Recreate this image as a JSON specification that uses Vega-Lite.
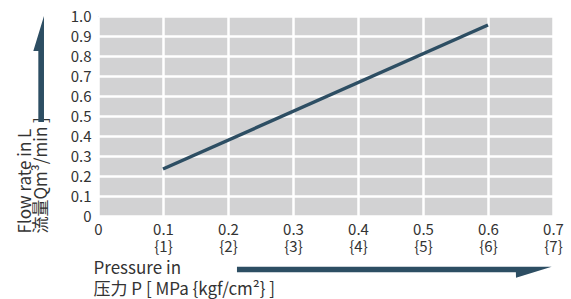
{
  "$schema": "https://vega.github.io/schema/vega-lite/v6.json",
  "autosize": {"type": "none"},
  "padding": {"left": 98, "top": 16, "right": 18, "bottom": 83},
  "width": 455,
  "height": 200,
  "background": "white",
  "config": {
    "font": "Noto Sans CJK JP",
    "view": {"fill": "#d2d2d3", "stroke": null},
    "axis": {
      "grid": true,
      "gridColor": "white",
      "gridWidth": 2.5,
      "gridOpacity": 1,
      "ticks": false,
      "domain": false,
      "labelFont": "Noto Sans CJK JP",
      "labelFontSize": 15,
      "labelColor": "#333333",
      "titleFont": "Noto Sans CJK JP",
      "titleFontSize": 17,
      "titleFontWeight": "normal",
      "titleColor": "#333333"
    }
  },
  "datasets": {
    "flow": [
      {"x": 0.1, "y": 0.235},
      {"x": 0.6, "y": 0.955}
    ],
    "harrow": [
      {"x": 0.2138, "y": -0.2535, "y2": -0.2815},
      {"x": 0.6429, "y": -0.2535, "y2": -0.2815},
      {"x": 0.6431, "y": -0.2535, "y2": -0.3085},
      {"x": 0.698, "y": -0.2535, "y2": -0.2535}
    ],
    "varrow": [
      {"y": 0.47, "x": -0.0918, "x2": -0.0831},
      {"y": 0.8249, "x": -0.0918, "x2": -0.0831},
      {"y": 0.8251, "x": -0.0995, "x2": -0.0831},
      {"y": 1.0, "x": -0.0831, "x2": -0.0831}
    ]
  },
  "encoding": {
    "x": {
      "field": "x",
      "type": "quantitative",
      "scale": {"domain": [0, 0.7], "nice": false, "zero": false},
      "axis": {
        "values": [0, 0.1, 0.2, 0.3, 0.4, 0.5, 0.6, 0.7],
        "labelExpr": "datum.value == 0 ? '0' : [format(datum.value, '.1f'), '{' + format(datum.value * 10, 'd') + '}']",
        "labelPadding": 6,
        "labelLineHeight": 17,
        "labelFlush": false,
        "labelOverlap": false,
        "title": ["Pressure in", "压力 P [ MPa {kgf/cm²} ]"],
        "titleAlign": "left",
        "titleAnchor": "start",
        "titleBaseline": "alphabetic",
        "titleX": -5,
        "titleY": 57,
        "titleLineHeight": 21
      }
    },
    "y": {
      "field": "y",
      "type": "quantitative",
      "scale": {"domain": [0, 1], "nice": false, "zero": false},
      "axis": {
        "values": [0, 0.1, 0.2, 0.3, 0.4, 0.5, 0.6, 0.7, 0.8, 0.9, 1.0],
        "labelExpr": "datum.value == 0 ? '0' : format(datum.value, '.1f')",
        "labelPadding": 7,
        "labelFlush": false,
        "labelOverlap": false,
        "title": ["Flow rate in L", "流量Qm³/min ]"],
        "titleAngle": -90,
        "titleAlign": "left",
        "titleAnchor": "start",
        "titleBaseline": "alphabetic",
        "titleX": -68,
        "titleY": 217,
        "titleLineHeight": 16
      }
    }
  },
  "layer": [
    {
      "data": {"name": "flow"},
      "mark": {"type": "line", "color": "#2d4e63", "strokeWidth": 3.5, "clip": false}
    },
    {
      "data": {"name": "harrow"},
      "mark": {"type": "area", "color": "#2d4e63", "orient": "vertical", "clip": false, "opacity": 1},
      "encoding": {"y2": {"field": "y2"}}
    },
    {
      "data": {"name": "varrow"},
      "mark": {"type": "area", "color": "#2d4e63", "orient": "horizontal", "clip": false, "opacity": 1},
      "encoding": {"x2": {"field": "x2"}}
    }
  ]
}
